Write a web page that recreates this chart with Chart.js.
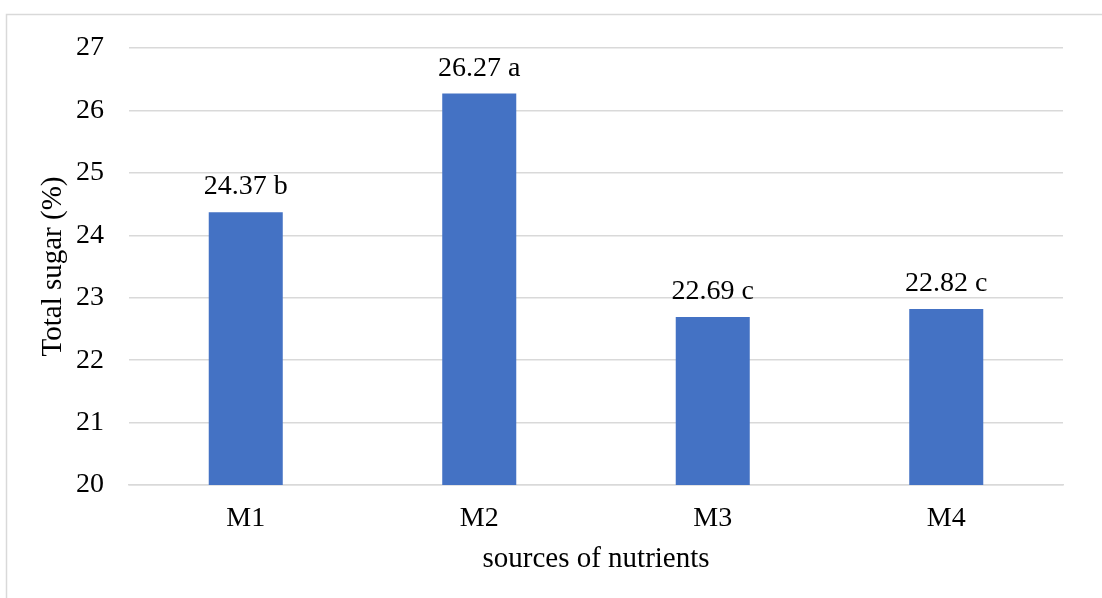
<!DOCTYPE html>
<html>
<head>
<meta charset="utf-8">
<script src="https://cdn.jsdelivr.net/npm/chart.js@4.4.1/dist/chart.umd.min.js"></script>
<style>
  html, body { margin: 0; padding: 0; background: #ffffff; }
  #wrap { position: relative; width: 1102px; height: 598px; }
</style>
</head>
<body>
<div id="wrap"><canvas id="chart" width="1102" height="598"></canvas></div>
<script>
// Total sugar by nutrient source, with significance letters
const categories = ['M1', 'M2', 'M3', 'M4'];
const totalSugar = [24.37, 26.27, 22.69, 22.82];
const groupLetters = ['b', 'a', 'c', 'c'];
const yTicks = [20, 21, 22, 23, 24, 25, 26, 27];

const FONT = '"Liberation Serif", "Times New Roman", serif';
const GRID = '#d9d9d9';

// Light frame around the figure
const framePlugin = {
  id: 'frame',
  beforeDraw(chart) {
    const ctx = chart.ctx;
    ctx.save();
    ctx.fillStyle = '#ffffff';
    ctx.fillRect(0, 0, chart.width, chart.height);
    ctx.strokeStyle = GRID;
    ctx.lineWidth = 1.5;
    ctx.strokeRect(6.5, 14.5, chart.width + 20, chart.height + 20);
    ctx.restore();
  }
};

// Value + letter above each bar
const valueLabels = {
  id: 'valueLabels',
  afterDatasetsDraw(chart) {
    const ctx = chart.ctx;
    const meta = chart.getDatasetMeta(0);
    ctx.save();
    ctx.font = '28px ' + FONT;
    ctx.fillStyle = '#000000';
    ctx.textAlign = 'center';
    ctx.textBaseline = 'alphabetic';
    meta.data.forEach((bar, i) => {
      const v = chart.data.datasets[0].data[i];
      ctx.fillText(v.toFixed(2) + ' ' + groupLetters[i], bar.x, bar.y - 18);
    });
    ctx.restore();
  }
};

new Chart(document.getElementById('chart'), {
  type: 'bar',
  data: {
    labels: categories,
    datasets: [{
      data: totalSugar,
      backgroundColor: '#4472c4',
      borderWidth: 0,
      categoryPercentage: 1,
      barPercentage: 0.317
    }]
  },
  options: {
    responsive: false,
    animation: false,
    layout: { padding: { left: 0, right: 39, top: 48, bottom: 0 } },
    plugins: {
      legend: { display: false },
      tooltip: { enabled: false }
    },
    scales: {
      x: {
        grid: { display: false, drawTicks: false },
        border: { color: GRID, width: 1.5 },
        ticks: { color: '#000000', font: { family: FONT, size: 28 }, padding: 17 },
        title: {
          display: true,
          text: 'sources of nutrients',
          color: '#000000',
          font: { family: FONT, size: 29 },
          padding: { top: 0, bottom: 21 }
        },
        afterFit(scale) { scale.height = 113; }
      },
      y: {
        min: 20,
        max: 27,
        afterBuildTicks(scale) { scale.ticks = yTicks.map(v => ({ value: v })); },
        grid: { color: GRID, lineWidth: 1.5, drawTicks: false },
        border: { display: false },
        ticks: { color: '#000000', font: { family: FONT, size: 28 }, padding: 25 },
        title: {
          display: true,
          text: 'Total sugar (%)',
          color: '#000000',
          font: { family: FONT, size: 29 },
          padding: { top: 36, bottom: 0 }
        },
        afterFit(scale) { scale.width = 129; }
      }
    }
  },
  plugins: [framePlugin, valueLabels]
});
</script>
</body>
</html>
